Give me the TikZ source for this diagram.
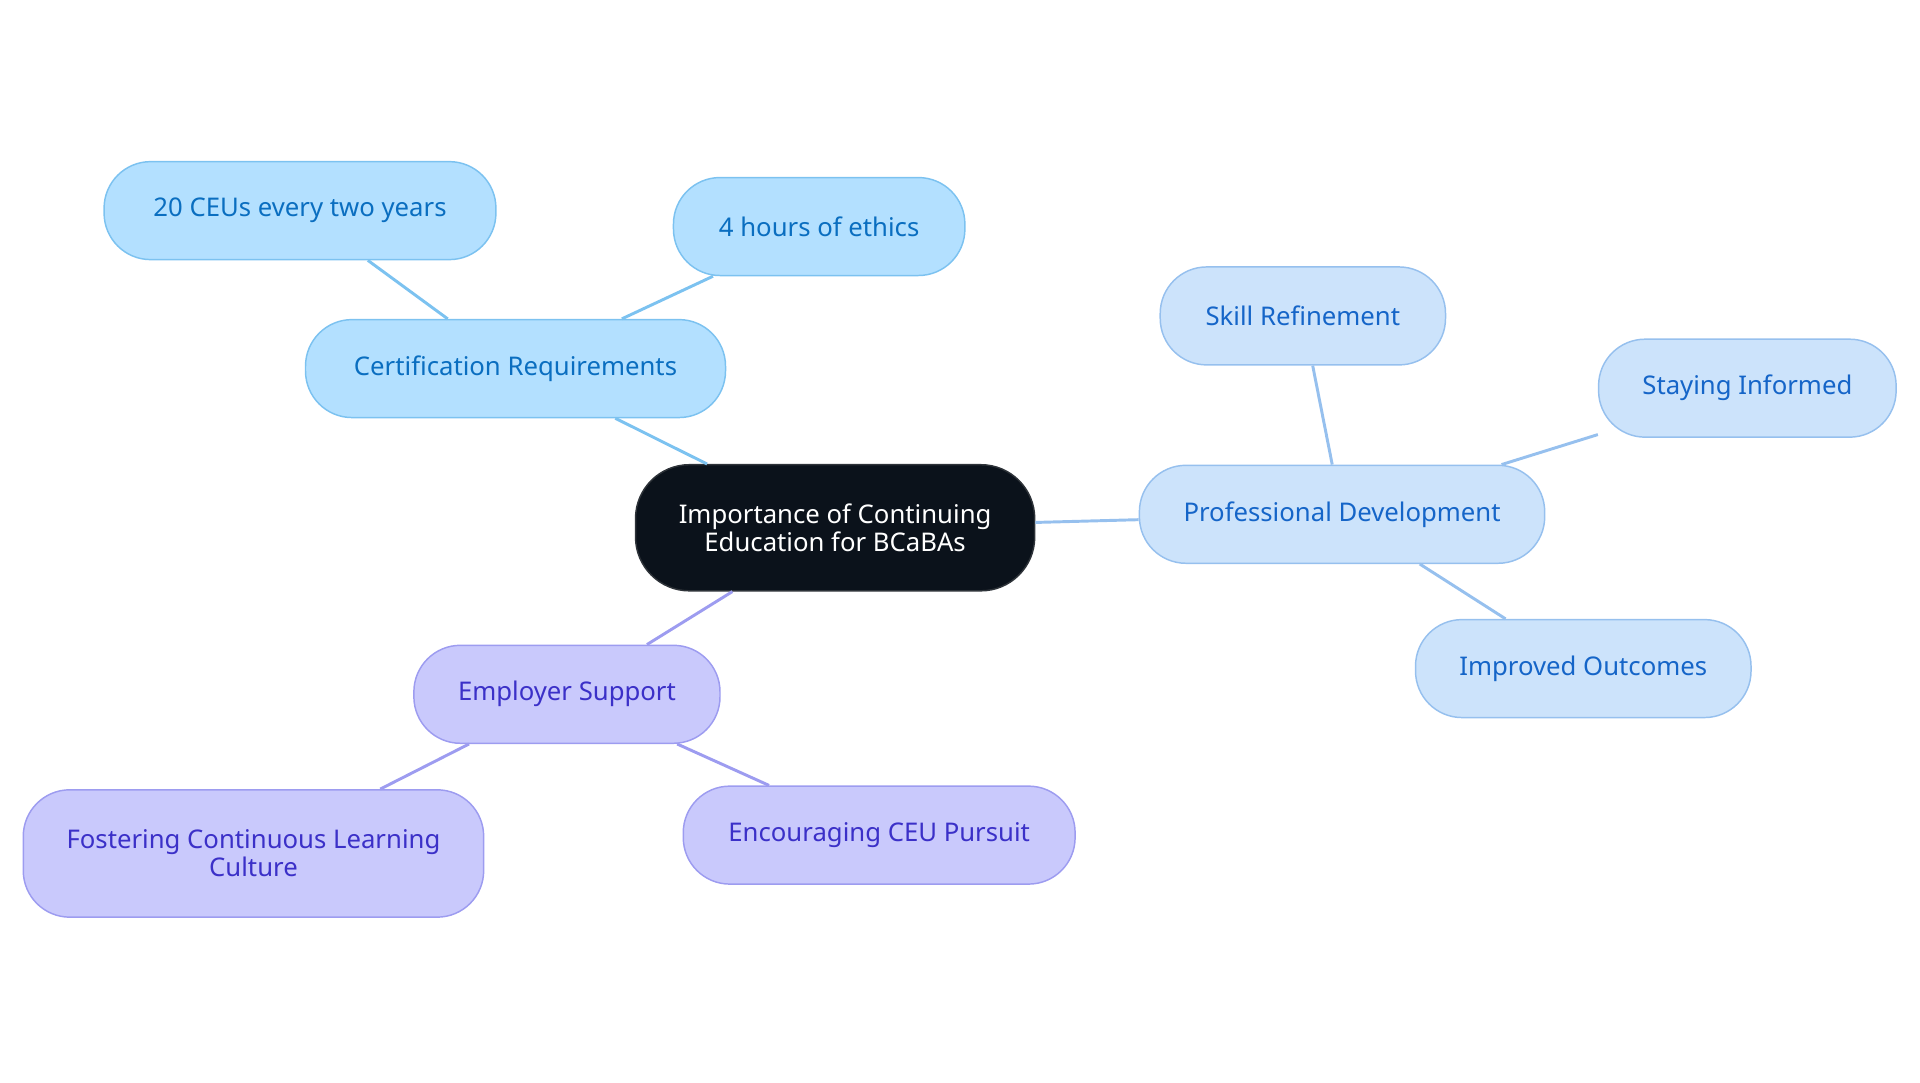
\documentclass[tikz,border=0pt]{standalone}
\usepackage{fontspec}
\setmainfont{Noto Sans}
\definecolor{rootfill}{HTML}{0B121B}
\definecolor{certfill}{HTML}{B3E0FF}
\definecolor{certline}{HTML}{7CC2F0}
\definecolor{certtext}{HTML}{0A6EC0}
\definecolor{proffill}{HTML}{CCE3FB}
\definecolor{profline}{HTML}{96C0EE}
\definecolor{proftext}{HTML}{1565C8}
\definecolor{empfill}{HTML}{C9C9FC}
\definecolor{empline}{HTML}{9D9CF0}
\definecolor{emptext}{HTML}{3B30C8}

\begin{document}
\begin{tikzpicture}[x=0.5pt,y=-0.5pt,
 concept/.style={rounded corners=19pt,draw,line width=0.6pt,align=center,
  font=\fontsize{10.5}{11.5}\selectfont,inner sep=0pt},
 cert/.style={concept,fill=certfill,draw=certline,text=certtext},
 prof/.style={concept,fill=proffill,draw=profline,text=proftext},
 emp/.style={concept,fill=empfill,draw=empline,text=emptext},
 link/.style={line width=1.2pt}]

\useasboundingbox (0,0) rectangle (1568,884);

\node [concept,fill=rootfill,draw=rootfill!70!gray,text=white,rounded corners=22pt,
 minimum width=163pt,minimum height=51.5pt] (imp) at (682,431)
 {Importance of Continuing\\Education for BCaBAs};

% certification branch
\node [cert,minimum width=171.5pt,minimum height=40pt] (cer) at (421,301) {Certification Requirements};
\node [cert,minimum width=160pt,minimum height=40pt] (ceu) at (245,172) {20 CEUs every two years};
\node [cert,minimum width=119pt,minimum height=40pt] (eth) at (669,185) {4 hours of ethics};

% professional branch
\node [prof,minimum width=165.5pt,minimum height=40pt] (pro) at (1096,420) {Professional Development};
\node [prof,minimum width=116.5pt,minimum height=40pt] (ski) at (1064,258) {Skill Refinement};
\node [prof,minimum width=121.5pt,minimum height=40pt] (sta) at (1427,317) {Staying Informed};
\node [prof,minimum width=137pt,minimum height=40pt] (out) at (1293,546) {Improved Outcomes};

% employer branch
\node [emp,minimum width=125pt,minimum height=40pt] (emp) at (463,567) {Employer Support};
\node [emp,minimum width=188pt,minimum height=52pt] (fos) at (207,697) {Fostering Continuous Learning\\Culture};
\node [emp,minimum width=160pt,minimum height=40pt] (enc) at (718,682) {Encouraging CEU Pursuit};

\begin{scope}[on background layer/.style={}]
\draw [link,certline] (imp) -- (cer);
\draw [link,certline] (cer) -- (ceu);
\draw [link,certline] (cer) -- (eth);
\draw [link,profline] (imp) -- (pro);
\draw [link,profline] (pro) -- (ski);
\draw [link,profline] (pro) -- (sta);
\draw [link,profline] (pro) -- (out);
\draw [link,empline] (imp) -- (emp);
\draw [link,empline] (emp) -- (fos);
\draw [link,empline] (emp) -- (enc);
\end{scope}
\end{tikzpicture}
\end{document}
